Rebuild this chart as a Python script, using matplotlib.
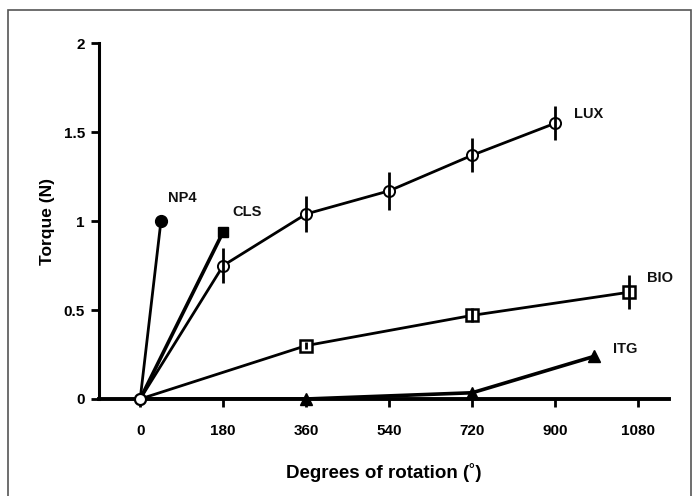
import matplotlib
matplotlib.use("Agg")
import matplotlib.pyplot as plt
from matplotlib.patches import Rectangle

plt.rcParams['font.family'] = ['Liberation Sans', 'DejaVu Sans']

# Data
np4_x = [0, 45]
np4_y = [0, 1.0]
cls_x = [0, 180]
cls_y = [0, 0.94]
lux_x = [0, 180, 360, 540, 720, 900]
lux_y = [0, 0.75, 1.04, 1.17, 1.37, 1.55]
lux_err = [0, 0.10, 0.10, 0.105, 0.095, 0.095]
bio_x = [0, 360, 720, 1060]
bio_y = [0, 0.30, 0.47, 0.60]
bio_err = [0, 0.02, 0.04, 0.095]
itg_x = [0, 360, 720, 985]
itg_y = [0, 0.0, 0.035, 0.24]
itg_err = [0, 0.0, 0.01, 0.02]
xticks = [0, 180, 360, 540, 720, 900, 1080]
yticks = [0, 0.5, 1, 1.5, 2]
ytick_labels = ['0', '0.5', '1', '1.5', '2']

fig = plt.figure(figsize=(6.97, 4.96), dpi=100)
fig.patches.append(Rectangle((8/697, -0.1), (691-8)/697, 1.1 - 10/496,
                             transform=fig.transFigure, fill=False,
                             edgecolor='#555555', linewidth=1.2))
ax = fig.add_axes([0.1416, 0.1956, 0.96 - 0.1416, 0.913 - 0.1956])

lw = 2.0
ms = 8
c = 'black'

ax.plot(np4_x, np4_y, color=c, lw=lw, zorder=3)
ax.plot(np4_x[1:], np4_y[1:], 'o', color=c, ms=ms + 0.5, zorder=5)

ax.plot(cls_x, cls_y, color=c, lw=2.6, zorder=3)
ax.plot(cls_x[1:], cls_y[1:], 's', color=c, ms=ms - 0.5, zorder=5)

ax.plot(lux_x, lux_y, color=c, lw=lw, zorder=3)
ax.plot(lux_x[1:], lux_y[1:], 'o', mfc='white', mec=c, mew=1.4, ms=ms, zorder=5)
ax.errorbar(lux_x[1:], lux_y[1:], yerr=lux_err[1:], fmt='none', ecolor=c, elinewidth=lw, capsize=0, zorder=6)

ax.plot(bio_x, bio_y, color=c, lw=lw, zorder=3)
ax.plot(bio_x[1:], bio_y[1:], 's', mfc='white', mec=c, mew=1.8, ms=ms + 1, zorder=5)
ax.errorbar(bio_x[1:], bio_y[1:], yerr=bio_err[1:], fmt='none', ecolor=c, elinewidth=lw, capsize=0, zorder=6)

ax.errorbar(itg_x[1:], itg_y[1:], yerr=itg_err[1:], fmt='none', ecolor=c, elinewidth=lw, capsize=0, zorder=4)
ax.plot(itg_x, itg_y, color=c, lw=2.6, zorder=3)
ax.plot(itg_x[1:], itg_y[1:], '^', color=c, ms=ms + 1, zorder=5, clip_on=False)

ax.plot([0], [0], 'o', mfc='white', mec=c, mew=1.6, ms=ms, zorder=7, clip_on=False)

txt = dict(fontsize=10.5, fontweight='bold', color='#111111')
ax.text(60, 1.13, 'NP4', ha='left', va='center', **txt)
ax.text(200, 1.05, 'CLS', ha='left', va='center', **txt)
ax.text(940, 1.60, 'LUX', ha='left', va='center', **txt)
ax.text(1100, 0.68, 'BIO', ha='left', va='center', **txt)
ax.text(1025, 0.28, 'ITG', ha='left', va='center', **txt)

ax.set_xlim(-90, 1147)
ax.set_ylim(0, 2)
ax.spines['top'].set_visible(False)
ax.spines['right'].set_visible(False)
ax.spines['left'].set_linewidth(2.2)
ax.spines['bottom'].set_linewidth(2.8)
ax.spines['left'].set_bounds(0, 2)
ax.set_xticks(xticks)
ax.set_xticklabels([str(v) for v in xticks])
ax.set_yticks(yticks)
ax.set_yticklabels(ytick_labels)
ax.tick_params(axis='both', direction='out', length=6, width=2, labelsize=11, pad=12)
ax.tick_params(axis='y', pad=4)
for lab in ax.get_xticklabels() + ax.get_yticklabels():
    lab.set_fontweight('bold')
ax.set_xlabel('Degrees of rotation (˚)', fontsize=13.5, fontweight='bold', labelpad=18)
ax.set_ylabel('Torque (N)', fontsize=12.5, fontweight='bold', labelpad=6)

fig.savefig('out.png', dpi=100)
